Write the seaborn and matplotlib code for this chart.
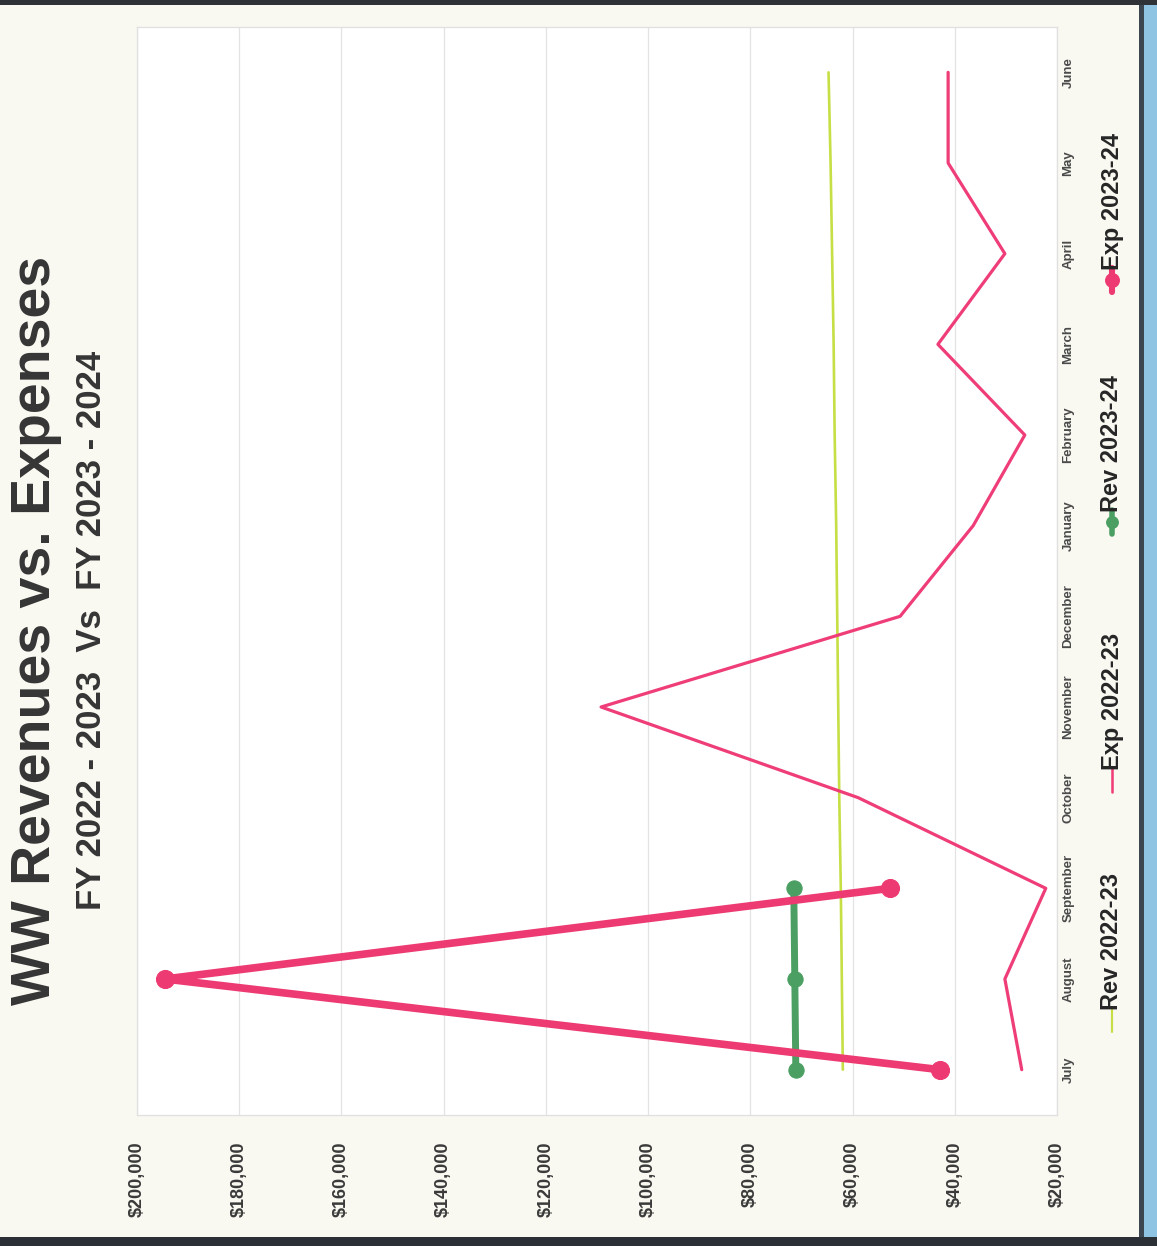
import numpy as np
import pandas as pd
import matplotlib
matplotlib.use("Agg")
import matplotlib.pyplot as plt
import seaborn as sns
from matplotlib.lines import Line2D
from matplotlib.patches import Rectangle

# ---- data -------------------------------------------------------------
months = ["July", "August", "September", "October", "November", "December",
          "January", "February", "March", "April", "May", "June"]

value_ticks = [200000, 180000, 160000, 140000, 120000, 100000,
               80000, 60000, 40000, 20000]
value_tick_labels = ["$200,000", "$180,000", "$160,000", "$140,000", "$120,000",
                     "$100,000", "$80,000", "$60,000", "$40,000", "$20,000"]

rev_2022_23 = [61900, 62100, 62300, 62600, 62800, 63000,
               63200, 63500, 63700, 64000, 64300, 64700]
exp_2022_23 = [26900, 30200, 22200, 58900, 109200, 50700,
               36400, 26300, 43300, 30200, 41300, 41300]
rev_2023_24 = [71100, 71300, 71500]
exp_2023_24 = [42900, 194500, 52700]

series_names = ["Rev 2022-23", "Exp 2022-23", "Rev 2023-24", "Exp 2023-24"]
series_values = [rev_2022_23, exp_2022_23, rev_2023_24, exp_2023_24]

frames = []
for name, vals in zip(series_names, series_values):
    frames.append(pd.DataFrame({"series": name,
                                "month": months[:len(vals)],
                                "pos": np.arange(len(vals)),
                                "value": vals}))
df = pd.concat(frames, ignore_index=True)

# ---- styles -----------------------------------------------------------
styles = {
    "Rev 2022-23": dict(color="#c6df45", lw=1.9, marker=None, ms=0),
    "Exp 2022-23": dict(color="#ef3d78", lw=2.3, marker=None, ms=0),
    "Rev 2023-24": dict(color="#4c9f63", lw=5.0, marker="o", ms=11),
    "Exp 2023-24": dict(color="#ee3a72", lw=5.5, marker="o", ms=13),
}

sns.set_theme(style="white")
plt.rcParams["font.family"] = ["Liberation Sans", "DejaVu Sans"]

W, H = 1157, 1246
fig = plt.figure(figsize=(W / 100, H / 100), dpi=100)
fig.patch.set_facecolor("#f9f8f1")


def fx(px):
    return px / W


def fy(py):
    return 1 - py / H


# paper edges and the blue surface behind the sheet
fig.patches.append(Rectangle((fx(1143), 0), fx(W - 1143), 1, transform=fig.transFigure,
                             facecolor="#8fc4e2", edgecolor="none", zorder=0))
fig.patches.append(Rectangle((fx(1139), 0), fx(5), 1, transform=fig.transFigure,
                             facecolor="#3b4650", edgecolor="none", zorder=0))
fig.patches.append(Rectangle((0, fy(5)), 1, fy(0) - fy(5), transform=fig.transFigure,
                             facecolor="#2f3338", edgecolor="none", zorder=0))
fig.patches.append(Rectangle((0, 0), 1, fy(1237), transform=fig.transFigure,
                             facecolor="#2a3036", edgecolor="none", zorder=0))

left, right, top, bottom = 137, 1057, 27, 1115
ax = fig.add_axes([fx(left), fy(bottom), fx(right) - fx(left), fy(top) - fy(bottom)])
ax.set_facecolor("white")

for name in series_names:
    st = styles[name]
    sub = df[df["series"] == name]
    sns.lineplot(data=sub, x="value", y="pos", ax=ax, orient="y", sort=False,
                 estimator=None, color=st["color"], linewidth=st["lw"],
                 marker=st["marker"], markersize=st["ms"],
                 markeredgecolor=st["color"], legend=False)

ax.set_xlim(200000, 20000)
ax.set_ylim(-0.5, 11.5)
ax.set_xticks(value_ticks)
ax.set_xticklabels(value_tick_labels, rotation=90, fontsize=13,
                   fontweight="bold", color="#3a3a3a")
ax.set_yticks(range(len(months)))
ax.yaxis.tick_right()
ax.set_yticklabels(months, rotation=90, fontsize=9.5, fontweight="bold",
                   color="#4a4a4a", va="center")
ax.tick_params(axis="x", length=0, pad=19)
ax.tick_params(axis="y", length=0, pad=4)
ax.set_xlabel("")
ax.set_ylabel("")
ax.grid(axis="x", color="#e3e3e3", linewidth=0.9)
ax.grid(axis="y", visible=False)
for side, sp in ax.spines.items():
    sp.set_color("#e0e0e0")
    sp.set_linewidth(0.9)

# title block
fig.text(fx(36), fy(630), "WW Revenues vs. Expenses", rotation=90,
         fontsize=40, fontweight="bold", color="#353535", ha="center", va="center")
fig.text(fx(92), fy(630), "FY 2022 - 2023  Vs  FY 2023 - 2024", rotation=90,
         fontsize=25, fontweight="bold", color="#353535", ha="center", va="center")

# legend along the right edge
legend_items = [
    ("Rev 2022-23", 1032),
    ("Exp 2022-23", 792),
    ("Rev 2023-24", 534),
    ("Exp 2023-24", 292),
]
lx = 1112
for name, ystart in legend_items:
    st = styles[name]
    y0, y1 = ystart, ystart - 24
    fig.add_artist(Line2D([fx(lx), fx(lx)], [fy(y0), fy(y1)], transform=fig.transFigure,
                          color=st["color"], linewidth=st["lw"] * 0.8))
    if st["marker"]:
        fig.add_artist(Line2D([fx(lx)], [fy((y0 + y1) / 2)], transform=fig.transFigure,
                              color=st["color"], marker="o", markersize=st["ms"] * 0.75,
                              linestyle="none"))
    fig.text(fx(lx), fy(y1 + 2), name, rotation=90, fontsize=17, fontweight="bold",
             color="#262626", ha="center", va="bottom")

fig.savefig("out.png", dpi=100, facecolor=fig.get_facecolor())
